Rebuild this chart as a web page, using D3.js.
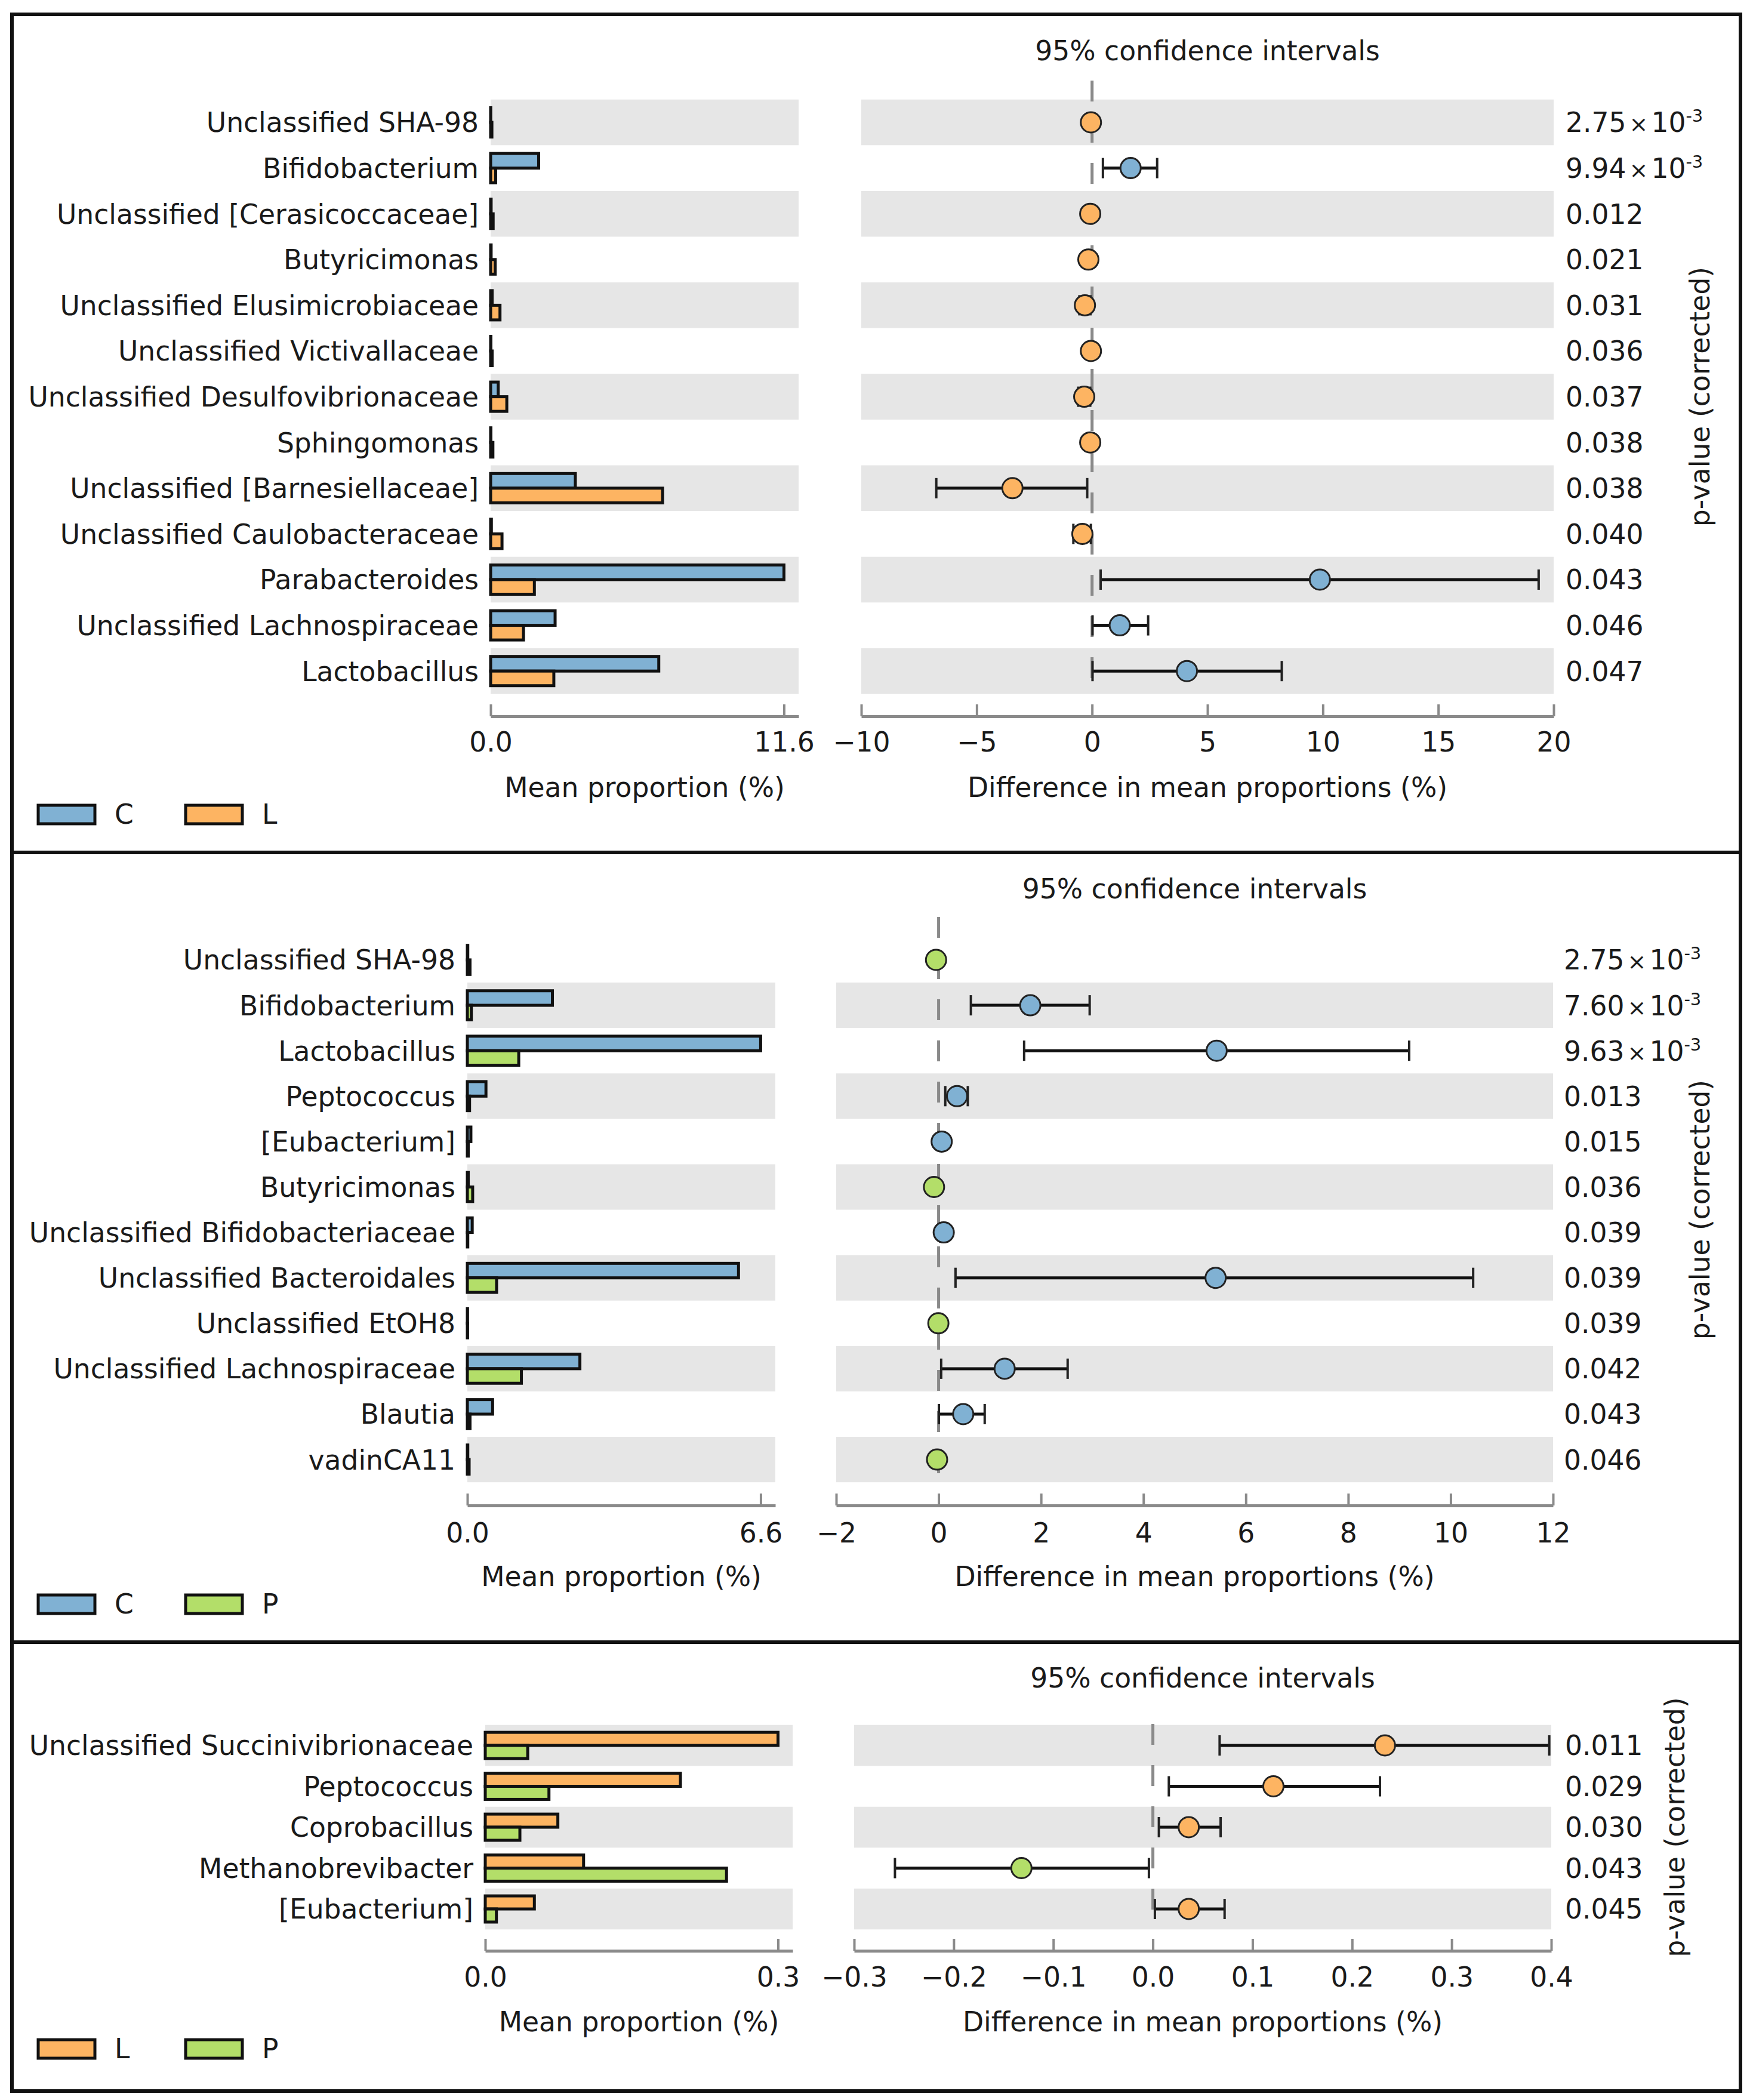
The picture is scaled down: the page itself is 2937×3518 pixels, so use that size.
<!DOCTYPE html>
<html>
<head>
<meta charset="utf-8">
<script src="https://cdn.jsdelivr.net/npm/d3@7"></script>
<style>
  body { margin: 0; background: #fff; }
  svg text { font-family: "DejaVu Sans", sans-serif; fill: #1a1a1a; }
</style>
</head>
<body>
<svg id="chart" width="2937" height="3518"></svg>
<script>
// ---- panel 1: C vs L ----
const taxaCL = [
  'Unclassified SHA-98', 'Bifidobacterium', 'Unclassified [Cerasicoccaceae]',
  'Butyricimonas', 'Unclassified Elusimicrobiaceae', 'Unclassified Victivallaceae',
  'Unclassified Desulfovibrionaceae', 'Sphingomonas', 'Unclassified [Barnesiellaceae]',
  'Unclassified Caulobacteraceae', 'Parabacteroides', 'Unclassified Lachnospiraceae',
  'Lactobacillus'
];
const meanC_CL = [0.005, 1.9, 0.02, 0.02, 0.06, 0.01, 0.3, 0.01, 3.35, 0.03, 11.6, 2.55, 6.65];
const meanL_CL = [0.05, 0.2, 0.1, 0.18, 0.37, 0.06, 0.64, 0.09, 6.8, 0.45, 1.73, 1.3, 2.5];
const diffCL = [-0.05, 1.67, -0.08, -0.16, -0.31, -0.05, -0.34, -0.08, -3.45, -0.42, 9.87, 1.2, 4.11];
const lowCL = [-0.09, 0.47, -0.14, -0.26, -0.55, -0.09, -0.6, -0.14, -6.75, -0.81, 0.37, 0.02, 0.02];
const highCL = [-0.01, 2.82, -0.02, -0.06, -0.07, -0.01, -0.08, -0.02, -0.21, -0.05, 19.35, 2.43, 8.22];
const pCL = [0.00275, 0.00994, 0.012, 0.021, 0.031, 0.036, 0.037, 0.038, 0.038, 0.040, 0.043, 0.046, 0.047];

// ---- panel 2: C vs P ----
const taxaCP = [
  'Unclassified SHA-98', 'Bifidobacterium', 'Lactobacillus', 'Peptococcus',
  '[Eubacterium]', 'Butyricimonas', 'Unclassified Bifidobacteriaceae',
  'Unclassified Bacteroidales', 'Unclassified EtOH8', 'Unclassified Lachnospiraceae',
  'Blautia', 'vadinCA11'
];
const meanC_CP = [0.01, 1.92, 6.62, 0.42, 0.08, 0.02, 0.11, 6.12, 0.005, 2.54, 0.57, 0.01];
const meanP_CP = [0.06, 0.09, 1.16, 0.05, 0.02, 0.12, 0.01, 0.66, 0.006, 1.22, 0.06, 0.04];
const diffCP = [-0.05, 1.79, 5.43, 0.36, 0.06, -0.09, 0.1, 5.41, -0.005, 1.29, 0.48, -0.03];
const lowCP = [-0.09, 0.63, 1.67, 0.13, 0.02, -0.15, 0.03, 0.33, -0.008, 0.05, 0.005, -0.05];
const highCP = [-0.01, 2.95, 9.19, 0.57, 0.1, -0.03, 0.17, 10.44, -0.002, 2.52, 0.9, -0.01];
const pCP = [0.00275, 0.0076, 0.00963, 0.013, 0.015, 0.036, 0.039, 0.039, 0.039, 0.042, 0.043, 0.046];

// ---- panel 3: L vs P ----
const taxaLP = [
  'Unclassified Succinivibrionaceae', 'Peptococcus', 'Coprobacillus',
  'Methanobrevibacter', '[Eubacterium]'
];
const meanL_LP = [0.273, 0.182, 0.0677, 0.0917, 0.0458];
const meanP_LP = [0.0396, 0.0594, 0.0323, 0.225, 0.0104];
const diffLP = [0.233, 0.121, 0.036, -0.132, 0.036];
const lowLP = [0.067, 0.016, 0.006, -0.259, 0.002];
const highLP = [0.398, 0.228, 0.068, -0.004, 0.072];
const pLP = [0.011, 0.029, 0.030, 0.043, 0.045];

const groupColor = {C: '#80b1d3', L: '#fdb462', P: '#b3de69'};

// build row tables for each panel
const rows = (taxa, a, b, diff, low, high, p) =>
  taxa.map((name, i) => ({name, a: a[i], b: b[i], diff: diff[i], low: low[i], high: high[i], p: p[i]}));

const panels = [
  {
    groups: ['C', 'L'], rows: rows(taxaCL, meanC_CL, meanL_CL, diffCL, lowCL, highCL, pCL),
    rowY0: 205, rowStep: 76.6, barX: [822, 1338], ciX: [1443, 2603], ciDomain: [-10, 20], ciTicks: 6,
    ciFormat: 'd', pX: 2623, titleY: 85, axisY: 1200, tickPad: 27, axisLabelY: 1319,
    legendY: 1364, zeroTop: 135, pLabelX: 2848
  },
  {
    groups: ['C', 'P'], rows: rows(taxaCP, meanC_CP, meanP_CP, diffCP, lowCP, highCP, pCP),
    rowY0: 1608, rowStep: 76.1, barX: [783, 1299], ciX: [1401, 2602], ciDomain: [-2, 12], ciTicks: 7,
    ciFormat: 'd', pX: 2620, titleY: 1489, axisY: 2522, tickPad: 30, axisLabelY: 2641,
    legendY: 2687, zeroTop: 1536, pLabelX: 2848
  },
  {
    groups: ['L', 'P'], rows: rows(taxaLP, meanL_LP, meanP_LP, diffLP, lowLP, highLP, pLP),
    rowY0: 2924, rowStep: 68.5, barX: [813, 1328], ciX: [1431, 2599], ciDomain: [-0.3, 0.4], ciTicks: 7,
    ciFormat: '.1f', pX: 2622, titleY: 2811, axisY: 3268, tickPad: 28, axisLabelY: 3387,
    legendY: 3432, zeroTop: 2888, pLabelX: 2806
  }
];

const svg = d3.select('#chart');
const FS = 45.6;
const AXIS_GRAY = '#8a8a8a';

// frame: outer box and panel dividers
svg.append('rect')
    .attr('x', 20).attr('y', 24)
    .attr('width', 2896).attr('height', 3479)
    .attr('fill', 'none').attr('stroke', '#111').attr('stroke-width', 6);

svg.selectAll('.divider').data([1428, 2751]).enter()
  .append('line')
    .attr('class', 'divider')
    .attr('x1', 20).attr('x2', 2916)
    .attr('y1', d => d).attr('y2', d => d)
    .attr('stroke', '#111').attr('stroke-width', 6);

panels.forEach(cfg => drawPanel(svg.append('g'), cfg));

function styleAxis (g) {
  g.attr('font-size', null).attr('font-family', null);
  g.select('.domain').attr('stroke', AXIS_GRAY).attr('stroke-width', 5);
  g.selectAll('.tick line').attr('stroke', AXIS_GRAY).attr('stroke-width', 4);
  g.selectAll('.tick text').attr('fill', '#1a1a1a').style('font-size', FS + 'px');
}

// small p-values are written as mantissa x 10^exponent
function writeP (text, p) {
  if (p >= 0.01) {
    text.text(d3.format('.3f')(p));
    return;
  }
  const e = Math.floor(Math.log10(p));
  text.text((p / 10 ** e).toFixed(2));
  text.append('tspan').attr('dx', 5).style('font-size', '38px').text('×');
  text.append('tspan').attr('dx', 5).text('10');
  text.append('tspan')
      .attr('dy', -17)
      .style('font-size', '29px')
      .text(`-${-e}`);
}

function drawPanel (g, cfg) {
  const n = cfg.rows.length,
        step = cfg.rowStep,
        barH = step * 0.32,
        yOf = i => cfg.rowY0 + i * step,
        bandTop = cfg.rowY0 - step / 2,
        bandBottom = yOf(n - 1) + step / 2,
        [g1, g2] = cfg.groups;

  const maxMean = d3.max(cfg.rows, d => Math.max(d.a, d.b));

  const xBar = d3.scaleLinear()
    .domain([0, maxMean * 1.05])
    .range(cfg.barX);

  const xCi = d3.scaleLinear()
    .domain(cfg.ciDomain)
    .range(cfg.ciX);

  // shaded bands, alternating up from the bottom row
  const shaded = cfg.rows.filter((d, i) => (n - 1 - i) % 2 === 0);
  ['barX', 'ciX'].forEach(key => {
    g.selectAll(`.band-${key}`).data(shaded).enter()
      .append('rect')
        .attr('class', `band-${key}`)
        .attr('x', cfg[key][0])
        .attr('width', cfg[key][1] - cfg[key][0])
        .attr('y', d => yOf(cfg.rows.indexOf(d)) - step / 2)
        .attr('height', step)
        .attr('fill', '#e6e6e6');
  });

  // row labels
  g.selectAll('.row-label').data(cfg.rows).enter()
    .append('text')
      .attr('class', 'row-label')
      .attr('x', cfg.barX[0] - 20)
      .attr('y', (d, i) => yOf(i))
      .attr('dy', '0.36em')
      .attr('text-anchor', 'end')
      .style('font-size', FS + 'px')
      .text(d => d.name);

  // mean proportion bars
  const barRow = g.selectAll('.bar-row').data(cfg.rows).enter()
    .append('g')
      .attr('class', 'bar-row')
      .attr('transform', (d, i) => `translate(0, ${yOf(i)})`);

  barRow.append('rect')
      .attr('x', xBar(0))
      .attr('y', -barH)
      .attr('width', d => xBar(d.a) - xBar(0))
      .attr('height', barH)
      .attr('fill', groupColor[g1])
      .attr('stroke', '#111').attr('stroke-width', 5);

  barRow.append('rect')
      .attr('x', xBar(0))
      .attr('y', 0)
      .attr('width', d => xBar(d.b) - xBar(0))
      .attr('height', barH)
      .attr('fill', groupColor[g2])
      .attr('stroke', '#111').attr('stroke-width', 5);

  // zero reference line
  g.append('line')
      .attr('x1', xCi(0)).attr('x2', xCi(0))
      .attr('y1', cfg.zeroTop).attr('y2', bandBottom)
      .attr('stroke', AXIS_GRAY)
      .attr('stroke-width', 5)
      .attr('stroke-dasharray', '35 34');

  // confidence intervals
  const ci = g.selectAll('.ci').data(cfg.rows).enter()
    .append('g')
      .attr('class', 'ci')
      .attr('transform', (d, i) => `translate(0, ${yOf(i)})`);

  ci.append('line')
      .attr('x1', d => xCi(d.low)).attr('x2', d => xCi(d.high))
      .attr('stroke', '#111').attr('stroke-width', 5);

  ci.selectAll('.cap').data(d => [d.low, d.high]).enter()
    .append('line')
      .attr('class', 'cap')
      .attr('x1', d => xCi(d)).attr('x2', d => xCi(d))
      .attr('y1', -17).attr('y2', 17)
      .attr('stroke', '#222').attr('stroke-width', 4);

  ci.append('circle')
      .attr('cx', d => xCi(d.diff))
      .attr('r', 17)
      .attr('fill', d => groupColor[d.diff > 0 ? g1 : g2])
      .attr('stroke', '#222').attr('stroke-width', 3);

  // p-values
  g.selectAll('.pval').data(cfg.rows).enter()
    .append('text')
      .attr('class', 'pval')
      .attr('x', cfg.pX)
      .attr('y', (d, i) => yOf(i))
      .attr('dy', '0.36em')
      .style('font-size', FS + 'px')
      .each(function (d) { writeP(d3.select(this), d.p); });

  g.append('text')
      .attr('transform', `translate(${cfg.pLabelX}, ${(bandTop + bandBottom) / 2}) rotate(-90)`)
      .attr('dy', '0.36em')
      .attr('text-anchor', 'middle')
      .style('font-size', FS + 'px')
      .text('p-value (corrected)');

  // title
  g.append('text')
      .attr('x', (cfg.ciX[0] + cfg.ciX[1]) / 2)
      .attr('y', cfg.titleY)
      .attr('dy', '0.36em')
      .attr('text-anchor', 'middle')
      .style('font-size', FS + 'px')
      .text('95% confidence intervals');

  // axes
  g.append('g')
      .attr('transform', `translate(0, ${cfg.axisY})`)
      .call(d3.axisBottom(xBar)
        .tickValues([0, maxMean])
        .tickFormat(d3.format('.1f'))
        .tickSizeInner(-20)
        .tickSizeOuter(0)
        .tickPadding(cfg.tickPad))
      .call(styleAxis);

  g.append('g')
      .attr('transform', `translate(0, ${cfg.axisY})`)
      .call(d3.axisBottom(xCi)
        .ticks(cfg.ciTicks)
        .tickFormat(d3.format(cfg.ciFormat))
        .tickSizeInner(-20)
        .tickSizeOuter(0)
        .tickPadding(cfg.tickPad))
      .call(styleAxis);

  g.append('text')
      .attr('x', (cfg.barX[0] + cfg.barX[1]) / 2)
      .attr('y', cfg.axisLabelY)
      .attr('dy', '0.36em')
      .attr('text-anchor', 'middle')
      .style('font-size', FS + 'px')
      .text('Mean proportion (%)');

  g.append('text')
      .attr('x', (cfg.ciX[0] + cfg.ciX[1]) / 2)
      .attr('y', cfg.axisLabelY)
      .attr('dy', '0.36em')
      .attr('text-anchor', 'middle')
      .style('font-size', FS + 'px')
      .text('Difference in mean proportions (%)');

  // legend
  const legend = g.selectAll('.legend-item').data(cfg.groups).enter()
    .append('g')
      .attr('class', 'legend-item')
      .attr('transform', (d, i) => `translate(${64 + i * 247}, ${cfg.legendY})`);

  legend.append('rect')
      .attr('y', -15)
      .attr('width', 95)
      .attr('height', 31)
      .attr('fill', d => groupColor[d])
      .attr('stroke', '#111').attr('stroke-width', 5);

  legend.append('text')
      .attr('x', 128)
      .attr('dy', '0.36em')
      .style('font-size', FS + 'px')
      .text(d => d);
}
</script>
</body>
</html>
